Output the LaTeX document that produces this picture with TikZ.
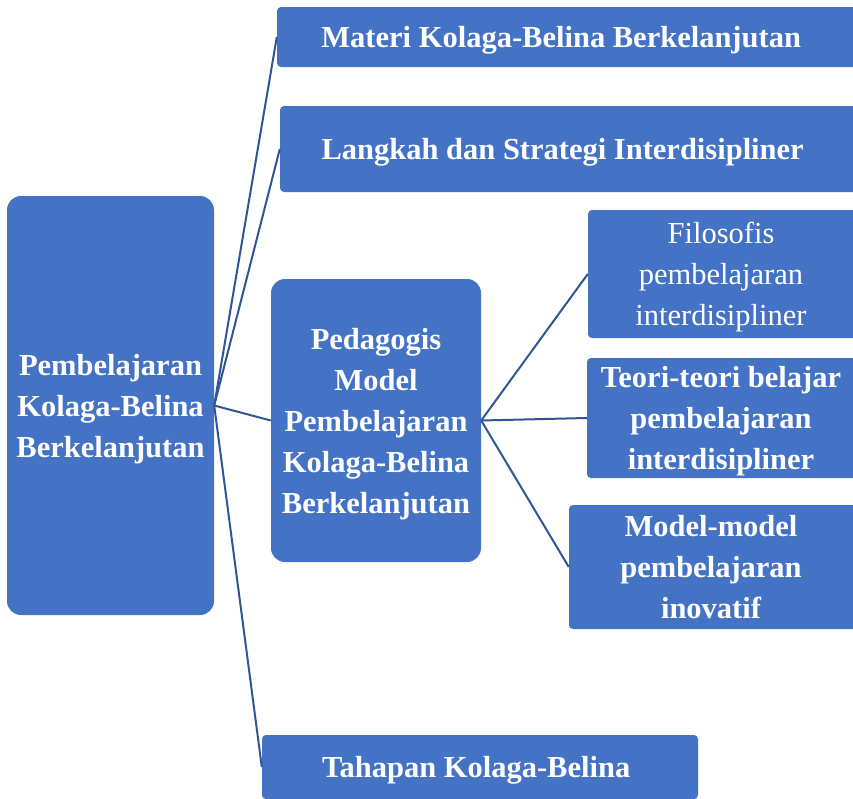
\documentclass[tikz,border=0pt]{standalone}
\usepackage{fontspec}
\setmainfont{Liberation Serif}
\usepackage{tikz}
\usetikzlibrary{positioning}

\definecolor{boxblue}{HTML}{4472C4}
\definecolor{lineblue}{HTML}{2F5597}

\begin{document}
\begin{tikzpicture}[x = 1pt, y = -1pt,
    every node/.style = { fill = boxblue, text = white, align = center, inner sep = 0pt, text depth = -1pt,
                          font = \fontsize{30.5}{41}\selectfont\bfseries },
    bigbox/.style = { rounded corners = 14pt },
    flatbox/.style = { rounded corners = 4pt },
    link/.style = { draw = lineblue, line width = 2pt }]
    \useasboundingbox (0,0) rectangle (853,798);
    \clip (0,0) rectangle (853,798);

    \node [bigbox, minimum width = 207pt, minimum height = 419pt] (root) at (110.5,405.5)
      { Pembelajaran \\ Kolaga-Belina \\ Berkelanjutan };
    \node [flatbox, minimum width = 590pt, minimum height = 60pt] (materi) at (572,37)
      { \hspace*{-14pt}Materi Kolaga-Belina Berkelanjutan };
    \node [flatbox, minimum width = 587pt, minimum height = 86pt] (langkah) at (573.5,149)
      { \hspace*{-14pt}Langkah dan Strategi Interdisipliner };
    \node [bigbox, minimum width = 210pt, minimum height = 283pt] (pedagogis) at (376,420.5)
      { Pedagogis \\ Model \\ Pembelajaran \\ Kolaga-Belina \\ Berkelanjutan };
    \node [flatbox, minimum width = 436pt, minimum height = 64pt] (tahapan) at (480,767)
      { Tahapan Kolaga-Belina };

    \node [flatbox, minimum width = 280pt, minimum height = 128pt, font = \fontsize{30.5}{41}\selectfont] (filosofis) at (728,274)
      { \hspace*{-14pt}Filosofis \\ \hspace*{-14pt}pembelajaran \\ \hspace*{-14pt}interdisipliner };
    \node [flatbox, minimum width = 280pt, minimum height = 120pt] (teori) at (727,418)
      { \hspace*{-12pt}Teori-teori belajar \\ \hspace*{-12pt}pembelajaran \\ \hspace*{-12pt}interdisipliner };
    \node [flatbox, minimum width = 298pt, minimum height = 124pt] (model) at (718,567)
      { \hspace*{-14pt}Model-model \\ \hspace*{-14pt}pembelajaran \\ \hspace*{-14pt}inovatif };

    % root to first level
    \draw [link] (root.east) -- (materi.west);
    \draw [link] (root.east) -- (langkah.west);
    \draw [link] (root.east) -- (pedagogis.west);
    \draw [link] (root.east) -- (tahapan.west);

    % pedagogis to second level
    \draw [link] (pedagogis.east) -- (filosofis.west);
    \draw [link] (pedagogis.east) -- (teori.west);
    \draw [link] (pedagogis.east) -- (model.west);
\end{tikzpicture}
\end{document}
